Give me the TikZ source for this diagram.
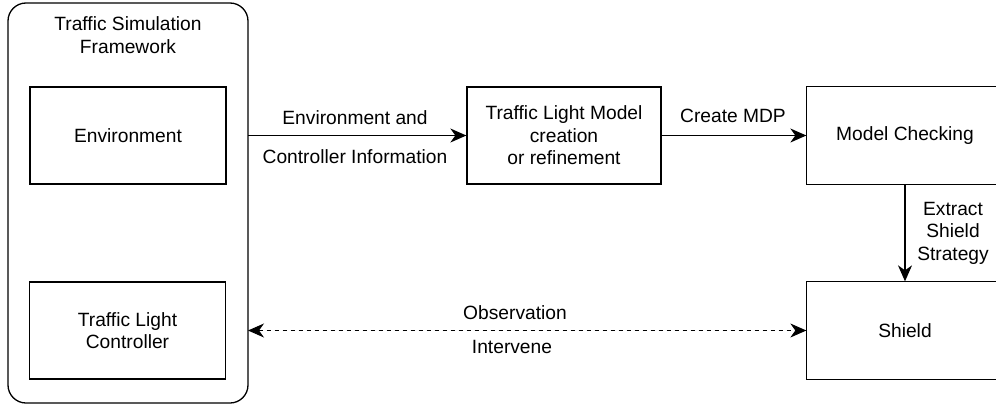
\documentclass[tikz,border=0pt]{standalone}
\usepackage{fontspec}
\setmainfont{Liberation Sans}
\usetikzlibrary{arrows.meta}
\begin{document}
\begin{tikzpicture}[x=1pt,y=-1pt,
  font=\fontsize{19.2}{22.5}\selectfont,
  box/.style={draw=black, line width=1.3pt, minimum width=196pt, minimum height=97pt, align=center, inner sep=0pt},
  openbox/.style={box, draw=none},
  edge/.style={draw=black, line width=1.3pt},
  frame/.style={draw=black, line width=1.3pt, rounded corners=18pt},
  arr/.style={line width=1.3pt, -{Stealth[length=16pt,width=14pt,inset=5pt]}},
  darr/.style={line width=1pt, dash pattern=on 4pt off 4pt, {Stealth[length=16pt,width=14pt,inset=5pt]}-{Stealth[length=16pt,width=14pt,inset=5pt]}},
  lbl/.style={inner sep=0pt, align=center}]
\clip (0,0) rectangle (996,407);
\fill[white] (0,0) rectangle (996,407);
% outer framework
\draw[frame] (8,3) rectangle (248,403);
\coordinate (outerE) at (248,203);
\node[lbl] (fwtitle) at (128,35) {Traffic Simulation\\Framework};
% boxes
\node[box] (env) at (128,135.5) {Environment};
\node[box] (ctrl) at (127.5,330.5) {Traffic Light\\Controller};
\node[box, minimum width=194pt] (tlm) at (564,135.5) {Traffic Light Model\\creation\\or refinement};
\node[openbox] (mc) at (905,135.5) {Model Checking};
\node[openbox] (shield) at (905,330.5) {Shield};
\draw[edge] ([xshift=30pt]mc.north east) -- (mc.north west) -- (mc.south west) -- ([xshift=30pt]mc.south east);
\draw[edge] ([xshift=30pt]shield.north east) -- (shield.north west) -- (shield.south west) -- ([xshift=30pt]shield.south east);
% connectors
\draw[arr] (outerE |- tlm.west) -- (tlm.west);
\node[lbl] (l1) at (355,118) {Environment and};
\node[lbl] (l2) at (355,157) {Controller Information};
\draw[arr] (tlm.east) -- (mc.west);
\node[lbl] (l3) at (733,116) {Create MDP};
\draw[arr] (mc.south) -- (shield.north);
\node[lbl] (l4) at (953,233) {Extract\\Shield\\Strategy};
\draw[darr] (outerE |- shield.west) -- (shield.west);
\node[lbl] (l5) at (515,313) {Observation};
\node[lbl] (l6) at (512,347) {Intervene};
\end{tikzpicture}
\end{document}
